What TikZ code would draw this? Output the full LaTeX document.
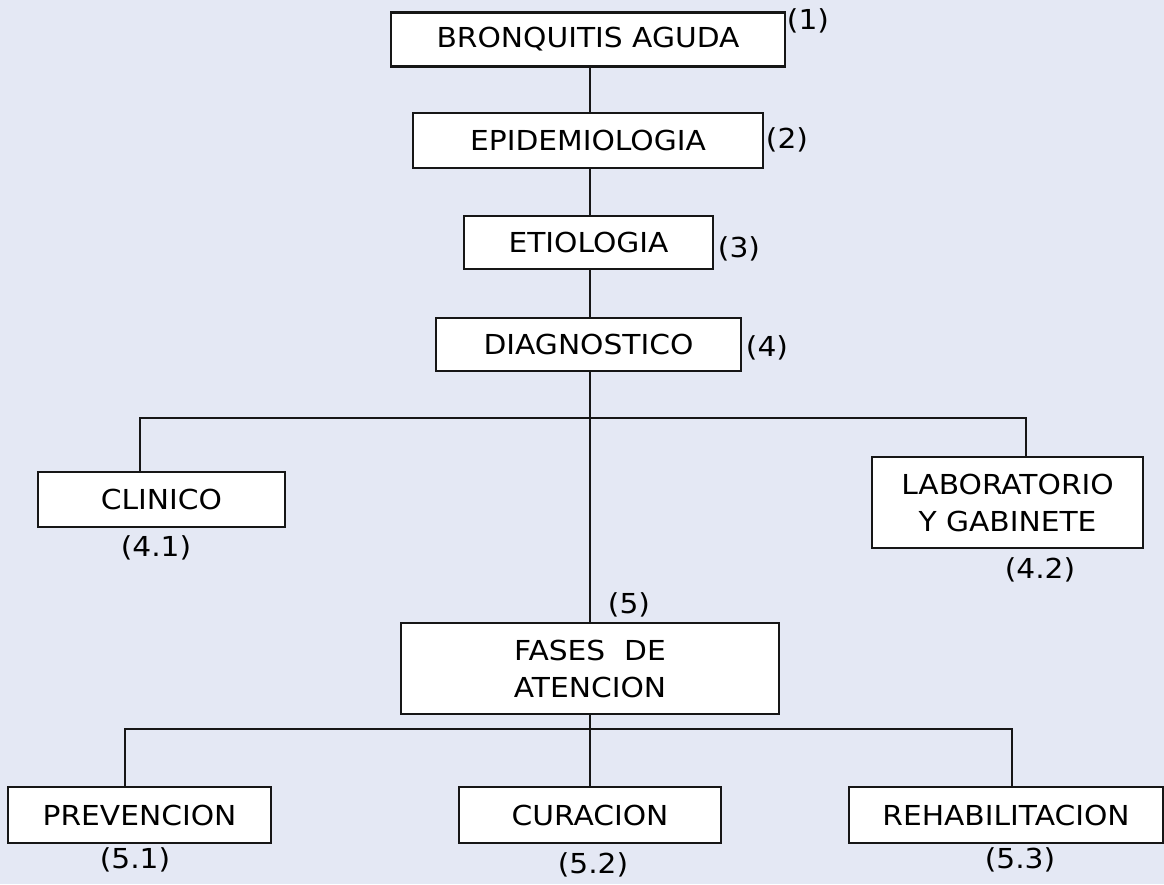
\documentclass[tikz,border=0pt]{standalone}
\usepackage{fontspec}
\setmainfont{DejaVu Sans}[FakeStretch=1.08]
\definecolor{bg}{HTML}{E4E8F4}
\definecolor{ln}{HTML}{161616}
\begin{document}
\begin{tikzpicture}[x=1pt,y=-1pt,
  box/.style={draw=ln,line width=2.3pt,fill=white,inner sep=0pt,font=\fontsize{27.5}{37}\selectfont,align=center},
  num/.style={inner sep=0pt,font=\fontsize{27.5}{37}\selectfont},
  conn/.style={draw=ln,line width=2.3pt}]
\fill[bg] (0,0) rectangle (1164,884);
\useasboundingbox (0,0) rectangle (1164,884);
\node[box,minimum width=394pt,minimum height=54pt] (b1) at (588,39.5) {BRONQUITIS AGUDA};
\node[box,minimum width=350pt,minimum height=55pt] (b2) at (588,140.5) {EPIDEMIOLOGIA};
\node[box,minimum width=249pt,minimum height=53pt] (b3) at (588.5,242.5) {ETIOLOGIA};
\node[box,minimum width=305pt,minimum height=53pt] (b4) at (588.5,344.5) {DIAGNOSTICO};
\node[box,minimum width=247pt,minimum height=55pt] (clin) at (161.5,499.5) {CLINICO};
\node[box,minimum width=271pt,minimum height=91pt] (lab) at (1007.5,502.5) {LABORATORIO\\Y GABINETE};
\node[box,minimum width=378pt,minimum height=91pt] (fases) at (590,668.5) {FASES\ \ DE\\ATENCION};
\node[box,minimum width=263pt,minimum height=56pt] (prev) at (139.5,815) {PREVENCION};
\node[box,minimum width=262pt,minimum height=56pt] (cur) at (590,815) {CURACION};
\node[box,minimum width=314pt,minimum height=56pt] (rehab) at (1006,815) {REHABILITACION};
\node[num] (n1) at (808,21) {(1)};
\node[num] (n2) at (787,140) {(2)};
\node[num] (n3) at (739,249) {(3)};
\node[num] (n4) at (767,348) {(4)};
\node[num] (n41) at (156,548) {(4.1)};
\node[num] (n42) at (1040,570) {(4.2)};
\node[num] (n5) at (629,605) {(5)};
\node[num] (n51) at (135,860) {(5.1)};
\node[num] (n52) at (593,865) {(5.2)};
\node[num] (n53) at (1020,860) {(5.3)};
\coordinate (cl) at (140,418);
\coordinate (cr) at (1026,418);
\coordinate (dl) at (125,729);
\coordinate (dr) at (1012,729);
\draw[conn] (b1.south -| 590,0) -- (b2.north -| 590,0);
\draw[conn] (b2.south -| 590,0) -- (b3.north -| 590,0);
\draw[conn] (b3.south -| 590,0) -- (b4.north -| 590,0);
\draw[conn] (b4.south -| 590,0) -- (fases.north);
\draw[conn] (clin.north -| cl) -- (cl) -- (cr) -- (lab.north -| cr);
\draw[conn] (fases.south) -- (cur.north);
\draw[conn] (prev.north -| dl) -- (dl) -- (dr) -- (rehab.north -| dr);
\end{tikzpicture}
\end{document}
